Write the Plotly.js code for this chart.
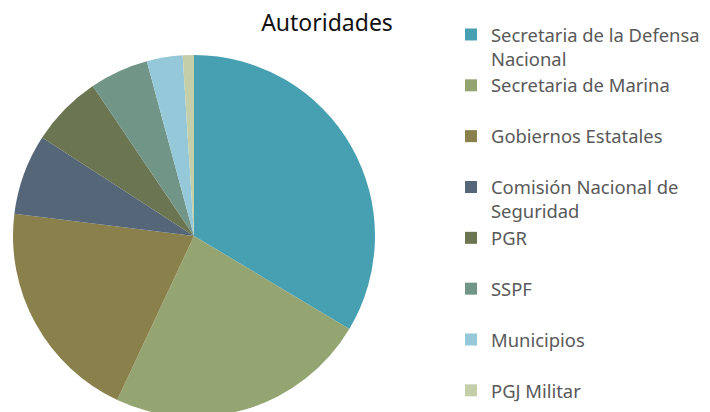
<!DOCTYPE html>
<html>
<head>
<meta charset="utf-8">
<script src="https://cdn.plot.ly/plotly-3.0.1.min.js"></script>
<style>
html, body { margin: 0; padding: 0; overflow: hidden; background: #fff; }
#chart { width: 710px; height: 420px; }
</style>
</head>
<body>
<div id="chart"></div>
<script>
// Data
const categories = [
  "Secretaria de la Defensa<br>Nacional",
  "Secretaria de Marina",
  "Gobiernos Estatales",
  "Comisión Nacional de<br>Seguridad",
  "PGR",
  "SSPF",
  "Municipios",
  "PGJ Militar"
];
const shares = [33.6, 23.4, 20.0, 7.2, 6.4, 5.25, 3.2, 1.0];
const sliceColors = ["#479FB2", "#95A572", "#8A804C", "#566679", "#6B7551", "#719587", "#95C8D8", "#C4CEA8"];
const chartTitle = "Autoridades";

// pad one-line legend labels to two lines so every entry has the same height
const legendLabels = categories.map(c => c.indexOf("<br>") >= 0 ? c : c + "<br>\u00a0");

const W = 710, H = 420;

const trace = {
  type: "pie",
  labels: legendLabels,
  values: shares,
  sort: false,
  direction: "clockwise",
  rotation: 0,
  textinfo: "none",
  hoverinfo: "label+percent",
  marker: { colors: sliceColors, line: { width: 0 } },
  domain: { x: [13 / W, 375 / W], y: [0, 1] }
};

const layout = {
  width: W,
  height: H,
  margin: { l: 0, r: 0, t: 55, b: 3, pad: 0, autoexpand: false },
  paper_bgcolor: "#ffffff",
  plot_bgcolor: "#ffffff",
  title: {
    text: chartTitle,
    font: { family: "Noto Sans, sans-serif", size: 23, color: "#111111" },
    xref: "container", yref: "container",
    x: 327 / W, xanchor: "center",
    y: 1 - 23 / H, yanchor: "middle"
  },
  showlegend: true,
  legend: {
    xref: "container", yref: "container",
    x: 451 / W, xanchor: "left",
    y: 1 - 16 / H, yanchor: "top",
    maxheight: 1,
    traceorder: "grouped",
    tracegroupgap: 0,
    valign: "top",
    font: { family: "Noto Sans, sans-serif", size: 18.4, color: "#595959" },
    bgcolor: "rgba(0,0,0,0)",
    borderwidth: 0
  }
};

Plotly.newPlot("chart", [trace], layout, { displayModeBar: false, staticPlot: true });
</script>
</body>
</html>
